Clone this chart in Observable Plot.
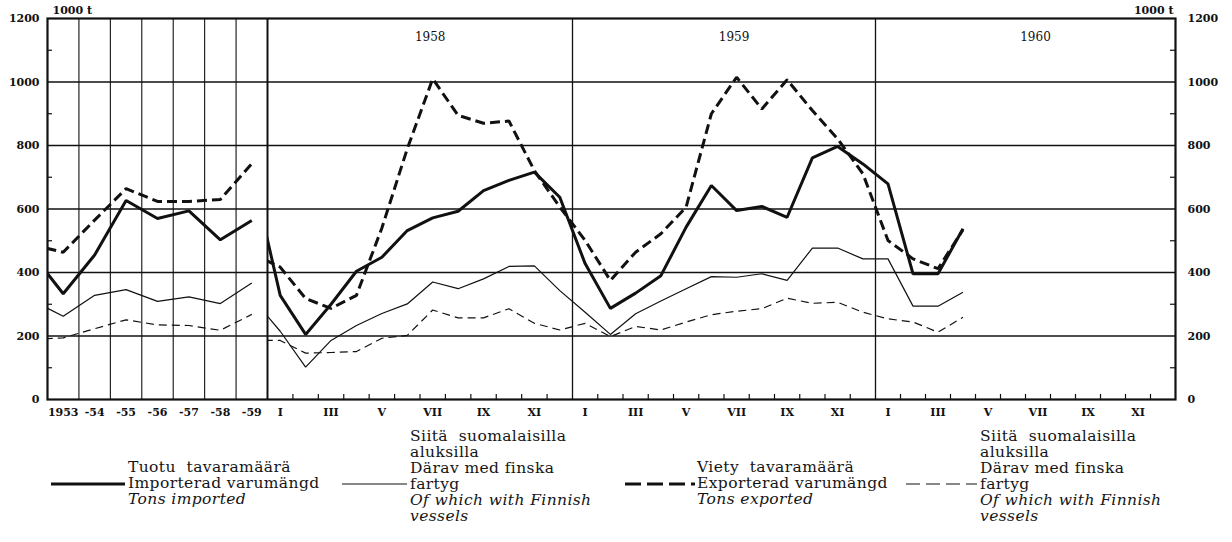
<!DOCTYPE html>
<html><head><meta charset="utf-8">
<script src="https://cdn.jsdelivr.net/npm/d3@7"></script>
<script src="https://cdn.jsdelivr.net/npm/@observablehq/plot@0.6"></script>
<style>
body{margin:0;background:#fff;width:1232px;height:542px;overflow:hidden;position:relative;font-family:"DejaVu Serif",serif;color:#111;}
#chart{position:absolute;left:0;top:0;}
.leg{position:absolute;font-family:"DejaVu Serif",serif;font-size:15.5px;line-height:16px;letter-spacing:0.4px;white-space:nowrap;color:#151515;}
.leg .it{font-style:italic;}
.sw{position:absolute;overflow:visible;}
</style></head><body>
<div id="chart"></div>
<div id="legend"></div>
<script>
// ---------- DATA ----------
// Annual section (1952 value only gives the clipped lead-in segment at the left edge)
const annualYears = [1952, 1953, 1954, 1955, 1956, 1957, 1958, 1959];
const annualLabels = ["1953", "-54", "-55", "-56", "-57", "-58", "-59"];
const importAnnual        = [460, 333, 455, 627, 570, 594, 503, 564];
const importFinnishAnnual = [313, 262, 328, 346, 309, 323, 302, 367];
const exportAnnual        = [487, 464, 565, 664, 624, 624, 630, 743];
const exportFinnishAnnual = [189, 194, 223, 251, 235, 233, 218, 268];

// Monthly section: Dec 1957 (clipped lead-in) through Apr 1960
const months = ["1957-12",
  "1958-01","1958-02","1958-03","1958-04","1958-05","1958-06","1958-07","1958-08","1958-09","1958-10","1958-11","1958-12",
  "1959-01","1959-02","1959-03","1959-04","1959-05","1959-06","1959-07","1959-08","1959-09","1959-10","1959-11","1959-12",
  "1960-01","1960-02","1960-03","1960-04"];
const importMonthly = [718,
  328, 205, 300, 404, 448, 532, 572, 593, 658, 690, 716, 637,
  428, 287, 335, 390, 543, 674, 595, 608, 574, 761, 797, 742,
  679, 396, 396, 538];
const importFinnishMonthly = [321,
  215, 102, 186, 233, 271, 301, 370, 349, 380, 419, 421, 343,
  275, 205, 270, 310, 349, 387, 385, 396, 375, 477, 477, 443,
  443, 294, 294, 338];
const exportMonthly = [460,
  417, 318, 287, 328, 540, 790, 1010, 895, 870, 877, 721, 606,
  501, 375, 464, 522, 606, 900, 1015, 915, 1007, 910, 821, 711,
  501, 443, 412, 535];
const exportFinnishMonthly = [186,
  186, 146, 148, 151, 193, 202, 282, 257, 257, 286, 240, 219,
  240, 198, 230, 219, 244, 267, 278, 286, 319, 303, 306, 275,
  254, 244, 212, 259];

const chartYears = ["1958", "1959", "1960"];
const romanMonths = ["I","II","III","IV","V","VI","VII","VIII","IX","X","XI","XII"];
const yTicks = [0, 200, 400, 600, 800, 1000, 1200];
const yMinor = [100, 300, 500, 700, 900, 1100];
const unitLabel = "1000 t";

const legendItems = [
  {lines: ["Tuotu  tavaramäärä", "Importerad varumängd", "Tons imported"], italic: [2]},
  {lines: ["Siitä  suomalaisilla", "aluksilla", "Därav med finska", "fartyg", "Of which with Finnish", "vessels"], italic: [4, 5]},
  {lines: ["Viety  tavaramäärä", "Exporterad varumängd", "Tons exported"], italic: [2]},
  {lines: ["Siitä  suomalaisilla", "aluksilla", "Därav med finska", "fartyg", "Of which with Finnish", "vessels"], italic: [4, 5]}
];

// ---------- LAYOUT ----------
const nAnnual = annualLabels.length;          // 7 annual columns
const monthStart = nAnnual;                   // monthly section begins at position 7
const nMonths = 36;
const annualPos = y => (y - 1953) + 0.5;
const monthPos = i => monthStart + (i - 1) + 0.5; // i=0 is Dec 1957

const series = [
  {annual: importAnnual, monthly: importMonthly, strokeWidth: 3, dash: null},
  {annual: importFinnishAnnual, monthly: importFinnishMonthly, strokeWidth: 1.2, dash: null},
  {annual: exportAnnual, monthly: exportMonthly, strokeWidth: 3, dash: "10,5"},
  {annual: exportFinnishAnnual, monthly: exportFinnishMonthly, strokeWidth: 1.2, dash: "8,5"}
];

const annualLines = series.map(s => Plot.line(
  annualYears.map((y, i) => ({x: annualPos(y), v: s.annual[i]})),
  {x: "x", y: "v", stroke: "#111", strokeWidth: s.strokeWidth, strokeDasharray: s.dash, strokeLinejoin: "miter", strokeLinecap: "butt"}));
const monthlyLines = series.map(s => Plot.line(
  months.map((m, i) => ({x: monthPos(i), v: s.monthly[i]})),
  {x: "x", y: "v", stroke: "#111", strokeWidth: s.strokeWidth, strokeDasharray: s.dash, strokeLinejoin: "miter", strokeLinecap: "butt"}));

const monthTicks = d3.range(1, nMonths).filter(k => k % 12 !== 0).map(k => monthStart + k);
const monthLabelRows = [];
chartYears.forEach((yr, yi) => romanMonths.forEach((r, mi) => {
  if (mi % 2 === 0) monthLabelRows.push({x: monthStart + yi * 12 + mi + 0.5, label: r});
}));

const tickFont = {fontFamily: "DejaVu Serif", fontWeight: "bold", fontSize: 11, fill: "#111"};

const plot = Plot.plot({
  width: 1232, height: 422,
  marginTop: 18, marginBottom: 23, marginLeft: 47, marginRight: 57,
  x: {type: "linear", domain: [0, 7, 19, 31, 43], range: [47, 267, 572, 875, 1175], axis: null},
  y: {domain: [0, 1200], axis: null},
  style: {background: "#fff", overflow: "visible"},
  marks: [
    Plot.ruleY(yTicks.slice(1, -1), {stroke: "#111", strokeWidth: 1.4}),
    Plot.ruleX(d3.range(1, nAnnual), {stroke: "#111", strokeWidth: 1.1}),
    Plot.ruleX([monthStart], {stroke: "#111", strokeWidth: 2}),
    Plot.ruleX([monthStart + 12, monthStart + 24], {stroke: "#111", strokeWidth: 1.3}),
    Plot.ruleX(monthTicks, {y1: 0, y2: 16, stroke: "#111", strokeWidth: 1.2}),
    Plot.ruleY(yMinor, {x1: 0, x2: 0.16, stroke: "#111", strokeWidth: 1.2}),
    Plot.ruleY(yMinor, {x1: 42.8, x2: 43, stroke: "#111", strokeWidth: 1.2}),
    ...annualLines,
    ...monthlyLines,
    Plot.frame({stroke: "#111", strokeWidth: 2.2}),
    Plot.text(yTicks, {x: () => 0, y: d => d, text: d => String(d), textAnchor: "end", dx: -8, ...tickFont}),
    Plot.text(yTicks, {x: () => 43, y: d => d, text: d => String(d), textAnchor: "start", dx: 12, ...tickFont}),
    Plot.text(annualLabels, {x: (d, i) => i + 0.5, y: () => 0, dy: 13, text: d => d, ...tickFont}),
    Plot.text(monthLabelRows, {x: "x", y: () => 0, dy: 13, text: "label", letterSpacing: 3, ...tickFont}),
    Plot.text(chartYears, {x: (d, i) => monthStart + i * 12 + 6.4, y: () => 1200, dy: 19, text: d => d, fontFamily: "DejaVu Serif", fontSize: 12, fill: "#111"}),
    Plot.text([unitLabel], {x: () => 0, y: () => 1200, dx: 5, dy: -8, textAnchor: "start", text: d => d, ...tickFont}),
    Plot.text([unitLabel], {x: () => 43, y: () => 1200, dx: -2, dy: -8, textAnchor: "end", text: d => d, ...tickFont})
  ]
});

// clip each section's lines to its own part of the frame
const xs = plot.scale("x");
const ys = plot.scale("y");
const X = v => xs.apply(v);
const yTop = ys.apply(1200), yBot = ys.apply(0);
const ns = "http://www.w3.org/2000/svg";
const defs = document.createElementNS(ns, "defs");
function addClip(id, a, b) {
  const cp = document.createElementNS(ns, "clipPath");
  cp.setAttribute("id", id);
  const r = document.createElementNS(ns, "rect");
  r.setAttribute("x", X(a)); r.setAttribute("y", yTop - 2);
  r.setAttribute("width", X(b) - X(a)); r.setAttribute("height", yBot - yTop + 4);
  cp.appendChild(r); defs.appendChild(cp);
}
addClip("clipAnnual", 0, monthStart);
addClip("clipMonthly", monthStart, monthStart + nMonths);
plot.insertBefore(defs, plot.firstChild);
const lineGroups = plot.querySelectorAll('g[aria-label="line"]');
lineGroups.forEach((g, i) => g.setAttribute("clip-path", i < 4 ? "url(#clipAnnual)" : "url(#clipMonthly)"));
document.getElementById("chart").appendChild(plot);

// ---------- LEGEND (below the chart) ----------
const legendPos = [
  {tx: 128, top: 459, sw: [51, 125]},
  {tx: 410, top: 428, sw: [342, 407]},
  {tx: 697, top: 459, sw: [625, 695]},
  {tx: 980, top: 428, sw: [906, 977]}
];
const leg = document.getElementById("legend");
legendItems.forEach((item, k) => {
  const p = legendPos[k];
  const d = document.createElement("div");
  d.className = "leg";
  d.style.left = p.tx + "px"; d.style.top = p.top + "px";
  d.innerHTML = item.lines.map((t, j) => `<div class="${item.italic.includes(j) ? "it" : ""}">${t.replace(/  /g, "&nbsp; ")}</div>`).join("");
  leg.appendChild(d);
  const s = series[k === 0 ? 0 : k === 1 ? 1 : k === 2 ? 2 : 3];
  const svg = document.createElementNS(ns, "svg");
  svg.setAttribute("class", "sw");
  svg.setAttribute("width", p.sw[1] - p.sw[0]); svg.setAttribute("height", 8);
  svg.style.left = p.sw[0] + "px"; svg.style.top = (484 - 4) + "px";
  const ln = document.createElementNS(ns, "line");
  ln.setAttribute("x1", 0); ln.setAttribute("x2", p.sw[1] - p.sw[0]);
  ln.setAttribute("y1", 4); ln.setAttribute("y2", 4);
  ln.setAttribute("stroke", "#111"); ln.setAttribute("stroke-width", s.strokeWidth);
  if (s.dash) ln.setAttribute("stroke-dasharray", s.strokeWidth > 2 ? "16,6" : "14,6");
  svg.appendChild(ln);
  leg.appendChild(svg);
});
</script>
</body></html>
